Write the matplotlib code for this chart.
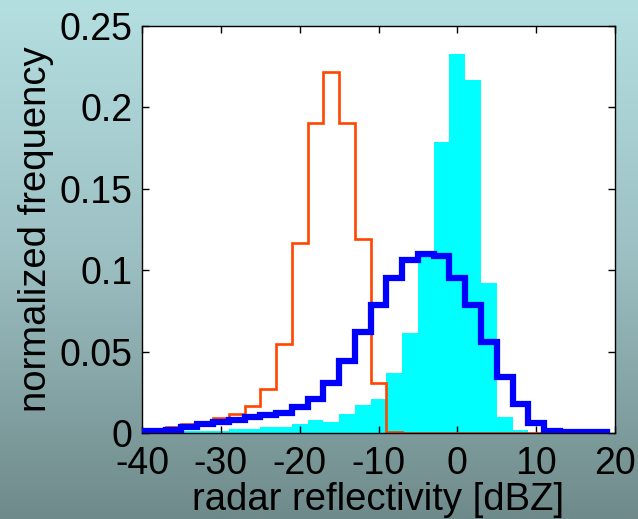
import numpy as np
import matplotlib
matplotlib.use("Agg")
import matplotlib.pyplot as plt
from matplotlib.colors import LinearSegmentedColormap

plt.rcParams['font.family'] = ['Liberation Sans', 'DejaVu Sans']
plt.rcParams['axes.unicode_minus'] = False

# bin centres [dBZ], bins are 2 dBZ wide
centers = np.arange(-40, 21, 2)

# filled cyan histogram
cyan_freq = [0.0005, 0.0008, 0.001, 0.001, 0.001, 0.001, 0.0023, 0.0023,
             0.0039, 0.0039, 0.0055, 0.008, 0.007, 0.0115, 0.0172, 0.0207,
             0.037, 0.0616, 0.108, 0.1786, 0.233, 0.217, 0.092, 0.010,
             0.002, 0, 0, 0, 0, 0, 0]

# red step line (centres -40 .. 10)
red_freq = [0.001, 0.0018, 0.0035, 0.0055, 0.007, 0.009, 0.0115, 0.0168,
            0.027, 0.0547, 0.1165, 0.1906, 0.222, 0.1906, 0.119, 0.031,
            0.0007, 0.0003, 0.0002, 0.0002, 0.0002, 0.0002, 0.0002, 0.0002,
            0.0002, 0.0002]

# blue step line (centres -40 .. 18)
blue_freq = [0.001, 0.001, 0.0018, 0.0039, 0.0055, 0.007, 0.008, 0.010,
             0.011, 0.0125, 0.0158, 0.0209, 0.0305, 0.0442, 0.0622, 0.0786,
             0.095, 0.106, 0.110, 0.109, 0.095, 0.0786, 0.0557, 0.0346,
             0.018, 0.0063, 0.001, 0.0005, 0.0005, 0.0005]

fig = plt.figure(figsize=(6.38, 5.19), dpi=100)

# gradient background
bg = fig.add_axes([0, 0, 1, 1], zorder=-10)
grad = LinearSegmentedColormap.from_list(
    "bg", ["#b4dfe1", "#9cbfc2", "#6f8a8a"])
bg.imshow(np.linspace(0, 1, 256).reshape(-1, 1), aspect='auto', cmap=grad,
          extent=[0, 1, 0, 1])
bg.set_axis_off()

ax = fig.add_axes([0.2226, 0.1657, 0.7414, 0.7843])
ax.set_facecolor('white')

ax.bar(centers, cyan_freq, width=2, color='#00ffff', linewidth=0, zorder=1)

red_edges = np.arange(-41, 12, 2)
ax.stairs(red_freq, red_edges, color='#ff4500', linewidth=1.9, zorder=2)

blue_edges = np.arange(-41, 20, 2)
ax.stairs(blue_freq, blue_edges, color='#0000ff', linewidth=4.5, zorder=3)

ax.set_xlim(-40, 20)
ax.set_ylim(0, 0.25)
ax.set_xticks([-40, -30, -20, -10, 0, 10, 20])
ax.set_yticks([0, 0.05, 0.1, 0.15, 0.2, 0.25])
ax.set_yticklabels(['0', '0.05', '0.1', '0.15', '0.2', '0.25'])
ax.tick_params(direction='in', top=True, right=True, length=5, width=1,
               labelsize=27, pad=7)
ax.tick_params(axis='x', pad=9)
for s in ax.spines.values():
    s.set_linewidth(1)

ax.set_xlabel('radar reflectivity [dBZ]', fontsize=27.5, labelpad=0)
ax.set_ylabel('normalized frequency', fontsize=27.5, labelpad=4)

fig.savefig('out.png', dpi=100)
